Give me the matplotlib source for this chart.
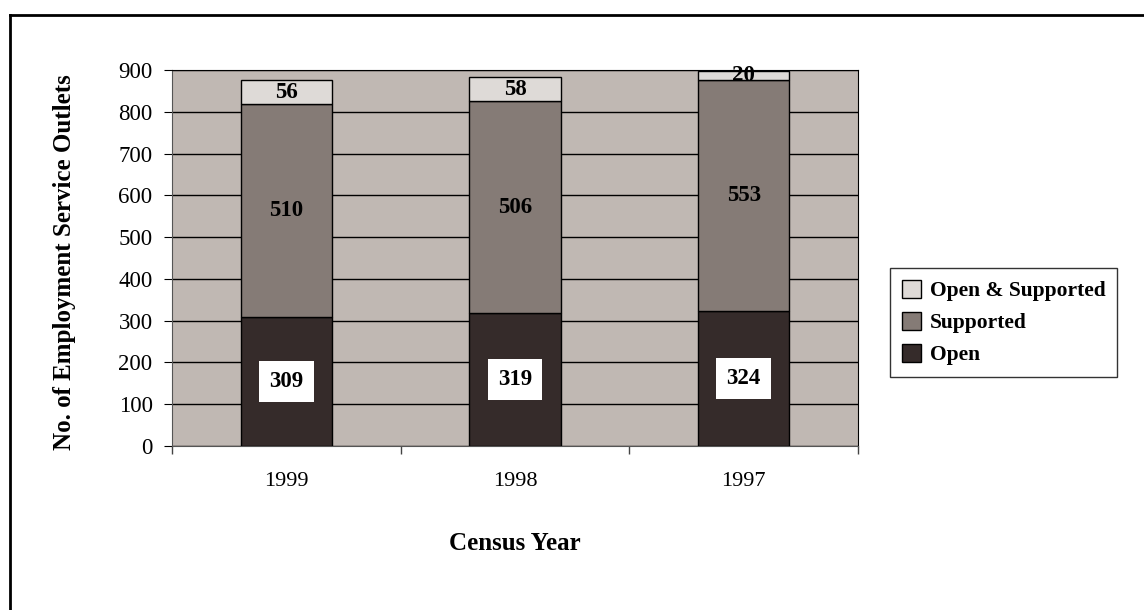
import numpy as np
import matplotlib.pyplot as plt
from matplotlib.lines import Line2D
from matplotlib.patches import Patch

years = ['1999', '1998', '1997']
open_only = [309, 319, 324]
supported = [510, 506, 553]
open_supp = [56, 58, 20]

c_open = '#352b2a'
c_supp = '#857b76'
c_both = '#dedad7'
c_bg = '#c0b8b3'

plt.rcParams['font.family'] = ['Liberation Serif', 'DejaVu Serif']

fig = plt.figure(figsize=(11.44, 6.10), dpi=100)
ax = fig.add_axes([172 / 1144, 1 - 446 / 610, 686 / 1144, 376 / 610])
ax.set_facecolor(c_bg)

x = np.arange(len(years))
w = 0.4
ax.bar(x, open_only, w, color=c_open, edgecolor='black', lw=1, zorder=3)
ax.bar(x, supported, w, bottom=open_only, color=c_supp, edgecolor='black', lw=1, zorder=3)
bottom3 = np.array(open_only) + np.array(supported)
ax.bar(x, open_supp, w, bottom=bottom3, color=c_both, edgecolor='black', lw=1, zorder=3)

for i in range(len(years)):
    ax.text(x[i], open_only[i] / 2, str(open_only[i]), ha='center', va='center',
            fontsize=16.5, fontweight='bold', zorder=5,
            bbox=dict(boxstyle='square,pad=0.45', fc='white', ec='none'))
    ax.text(x[i], open_only[i] + supported[i] / 2, str(supported[i]), ha='center', va='center',
            fontsize=16.5, fontweight='bold', zorder=5)
    ax.text(x[i], bottom3[i] + open_supp[i] / 2, str(open_supp[i]), ha='center', va='center',
            fontsize=16.5, fontweight='bold', zorder=5)

ax.set_ylim(0, 900)
ax.set_yticks(np.arange(0, 901, 100))
ax.yaxis.grid(True, color='black', lw=1)
ax.set_axisbelow(True)
ax.set_xlim(-0.5, 2.5)
ax.set_xticks(x)
ax.set_xticklabels(years)
ax.tick_params(axis='x', length=0, pad=19, labelsize=16)
ax.set_xticks([-0.5, 0.5, 1.5, 2.5], minor=True)
ax.tick_params(axis='x', which='minor', length=6, direction='out', width=1, color='#444444')
ax.tick_params(axis='y', length=6, direction='out', labelsize=16.5, pad=8)
for s in ['left', 'bottom']:
    ax.spines[s].set_color('#555555')

ax.set_ylabel('No. of Employment Service Outlets', fontsize=18, fontweight='bold')
ax.yaxis.set_label_coords(-0.140, 0.49)
fig.text(515 / 1144, 1 - 543 / 610, 'Census Year', ha='center', va='center',
         fontsize=18, fontweight='bold')

handles = [Patch(fc=c_both, ec='black'), Patch(fc=c_supp, ec='black'), Patch(fc=c_open, ec='black')]
leg = fig.legend(handles, ['Open & Supported', 'Supported', 'Open'],
                 loc='upper left', bbox_to_anchor=(890 / 1144, 1 - 268 / 610),
                 frameon=True, fancybox=False, prop={'weight': 'bold', 'size': 15.5},
                 handlelength=0.9, handleheight=0.9, handletextpad=0.4,
                 labelspacing=0.5, borderpad=0.55, borderaxespad=0)
leg.get_frame().set_edgecolor('black')
leg.get_frame().set_linewidth(1)

# outer border, top and left edges only
fig.add_artist(Line2D([9.5 / 1144, 1], [1 - 15 / 610, 1 - 15 / 610], color='black', lw=2))
fig.add_artist(Line2D([9.5 / 1144, 9.5 / 1144], [0, 1 - 15 / 610], color='black', lw=2))

fig.savefig('out.png', dpi=100)
